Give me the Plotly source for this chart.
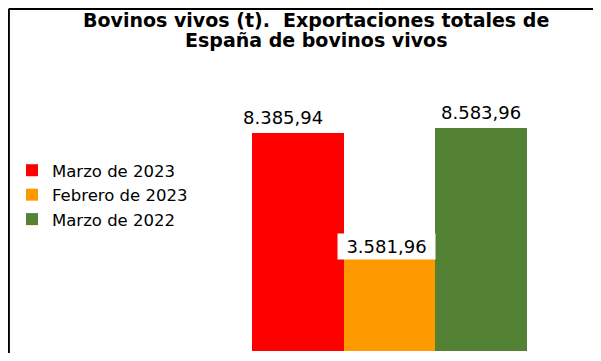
import plotly.graph_objects as go

series_names = ["Marzo de 2023", "Febrero de 2023", "Marzo de 2022"]
values = [8385.94, 3581.96, 8583.96]
colors = ["#FF0000", "#FF9900", "#548235"]
title_lines = ["Bovinos vivos (t).  Exportaciones totales de", "España de bovinos vivos"]

def fmt(v):
    s = f"{v:,.2f}"
    return s.replace(",", "X").replace(".", ",").replace("X", ".")

fig = go.Figure()
for i, (n, v, c) in enumerate(zip(series_names, values, colors)):
    fig.add_trace(go.Bar(x=[i], y=[v], name=n, marker=dict(color=c, line=dict(width=0)),
                         width=1, hoverinfo="skip"))

FONT = "DejaVu Sans, Verdana, sans-serif"
# page has an 8px body margin; figure coordinates = page - 8
W, H = 585, 345
ml, mr, mt, mb = 244, W - 519, 52, 2
plot_w = W - ml - mr
plot_h = H - mt - mb
ymax = plot_h / 0.026

def px_x(fx):
    return (fx - ml) / plot_w

def px_y(fy):
    return (H - mb - fy) / plot_h

# value labels
xshifts = [-15, -3, 0]
for i, v in enumerate(values):
    if i == 1:
        fig.add_annotation(x=i, y=v, text=fmt(v), showarrow=False, xanchor="center", yanchor="bottom",
                           yshift=-2, xshift=-3, bgcolor="white", width=93, height=21, borderpad=2,
                           font=dict(family=FONT, size=18, color="#000000"))
    else:
        fig.add_annotation(x=i, y=v, text=fmt(v), showarrow=False, xanchor="center", yanchor="bottom",
                           yshift=3, xshift=xshifts[i],
                           font=dict(family=FONT, size=18, color="#000000"))

# title lines
for fy, line in zip([12, 32], title_lines):
    fig.add_annotation(xref="paper", yref="paper", x=px_x(308), y=px_y(fy), text="<b>" + line + "</b>",
                       showarrow=False, xanchor="center", yanchor="middle",
                       font=dict(family=FONT, size=19, color="#000000"))

# border (top & left)
x_left = px_x(0.8)
y_top = px_y(0.8)
fig.add_shape(type="line", xref="paper", yref="paper", x0=x_left, x1=x_left, y0=px_y(H + 5), y1=y_top,
              line=dict(color="black", width=2.2))
fig.add_shape(type="line", xref="paper", yref="paper", x0=x_left, x1=px_x(W + 5), y0=y_top, y1=y_top,
              line=dict(color="black", width=2.2))

fig.update_layout(
    width=W, height=H,
    margin=dict(l=ml, r=mr, t=mt, b=mb),
    paper_bgcolor="white", plot_bgcolor="white",
    barmode="overlay",
    bargap=0,
    xaxis=dict(range=[-0.5, 2.5], visible=False, fixedrange=True),
    yaxis=dict(range=[0, ymax], visible=False, fixedrange=True),
    legend=dict(xref="container", yref="container", x=4 / W, y=1 - 145 / H, xanchor="left", yanchor="top",
                font=dict(family=FONT, size=16.5, color="#000000"), bgcolor="rgba(0,0,0,0)",
                tracegroupgap=0, itemwidth=30),
    showlegend=True,
)

fig.write_html("out.html")
